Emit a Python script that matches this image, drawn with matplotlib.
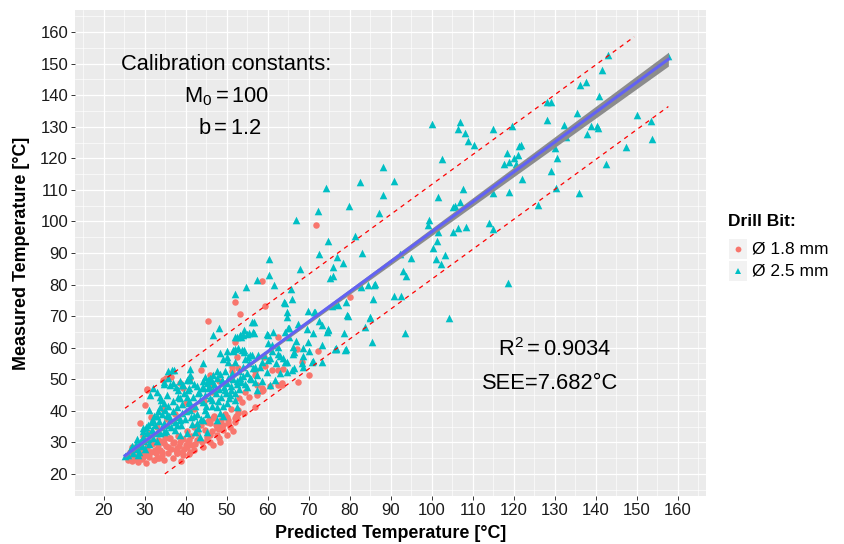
import numpy as np
import matplotlib
matplotlib.use("Agg")
import matplotlib.pyplot as plt
from matplotlib.lines import Line2D
from matplotlib.patches import Rectangle

plt.rcParams['font.family'] = ['Liberation Sans', 'DejaVu Sans']
plt.rcParams['mathtext.fontset'] = 'custom'
plt.rcParams['mathtext.rm'] = 'Liberation Sans'
plt.rcParams['mathtext.it'] = 'Liberation Sans:italic'

# ---- data (predicted, measured) ----
bit_18 = [
    (71.8, 98.9), (58.5, 81.2), (52.1, 74.4), (53.2, 70.6), (45.5, 68.5), (59.3, 73.3),
    (52.0, 61.9), (62.6, 63.5), (80.1, 76.2), (67.2, 59.5), (68.3, 55.6), (72.2, 59.0),
    (63.8, 53.2), (70.1, 51.4), (67.5, 49.2), (63.4, 48.7), (59.0, 57.0), (56.9, 52.7),
    (59.3, 54.2), (52.4, 57.0), (51.2, 54.0), (43.7, 52.9), (45.9, 51.3), (51.2, 52.7),
    (52.8, 53.6), (56.9, 51.2), (61.0, 52.9), (62.6, 52.9), (35.2, 50.3), (38.6, 48.7),
    (41.1, 50.3), (45.9, 47.6), (39.4, 47.1), (30.5, 46.8), (58.5, 47.1), (60.6, 47.8),
    (57.3, 48.2), (36.4, 50.6), (34.5, 49.8), (30.1, 41.9), (28.9, 36.1), (58.6, 46.4),
    (37.8, 26.6), (40.8, 26.3), (40.1, 29.2), (45.1, 31.8), (47.9, 36.1), (50.0, 38.1),
    (52.8, 40.3), (53.7, 42.9), (56.9, 41.1), (58.9, 46.6), (62.6, 48.2), (63.4, 48.2),
    (54.1, 39.2), (52.1, 37.6), (48.7, 35.9), (48.2, 34.3), (45.7, 37.0),
    (26.8, 28.6), (26.4, 27.1), (27.6, 25.5), (28.8, 27.6), (29.7, 25.5), (28.0, 24.4),
    (30.5, 26.0), (31.3, 27.1), (32.5, 27.6), (33.7, 27.6), (33.3, 29.1), (34.6, 29.7),
    (35.8, 28.6), (37.0, 29.7), (37.8, 28.1), (38.6, 30.2), (35.0, 31.3), (36.2, 31.3),
    (33.3, 30.7), (31.3, 30.2), (37.8, 26.5), (39.0, 27.1), (40.3, 28.6), (41.5, 29.1),
    (42.7, 30.7), (40.7, 30.7), (43.9, 30.2), (45.1, 30.7), (45.9, 32.3), (47.6, 34.4),
    (48.0, 36.0), (49.2, 35.5), (50.4, 37.1), (45.9, 36.0), (46.7, 37.6), (50.8, 35.0),
    (52.0, 36.6), (52.8, 39.2), (52.4, 37.6), (30.6, 46.6), (35.0, 50.0), (32.9, 25.0),
    (34.2, 26.0), (39.4, 26.0), (41.9, 27.6), (46.7, 29.1), (48.4, 30.2), (50.0, 32.3),
    (47.6, 32.3),
    (26.0, 24.5), (26.5, 26.0), (27.0, 24.0), (27.3, 27.5), (27.8, 25.2), (28.3, 23.8),
    (28.6, 26.3), (29.0, 28.0), (29.3, 24.8), (29.8, 26.8), (30.2, 23.5), (30.6, 28.5),
    (31.0, 25.5), (31.5, 27.0), (31.8, 29.5), (32.2, 24.3), (32.7, 26.5), (33.0, 28.0),
    (33.5, 25.0), (33.8, 30.5), (34.3, 27.0), (34.7, 24.5), (35.2, 29.0), (35.6, 26.5),
    (36.0, 31.5), (36.4, 28.0), (36.8, 25.0), (37.2, 30.0), (37.6, 27.5), (38.0, 32.0),
    (38.4, 29.0), (38.9, 24.0), (39.3, 31.0), (39.7, 28.0), (40.2, 33.5), (40.6, 30.0),
    (41.0, 27.0), (41.4, 32.0), (41.9, 35.0), (42.3, 29.5), (42.8, 33.0), (43.3, 31.0),
    (43.8, 35.5), (44.3, 28.5), (44.8, 34.0), (45.3, 36.5), (45.8, 30.0), (46.3, 33.5),
    (46.8, 38.5), (47.3, 35.5), (48.0, 31.5), (48.5, 37.0), (49.0, 34.0), (49.6, 39.0),
    (50.3, 36.0), (51.0, 40.5), (51.5, 33.5), (52.3, 38.5), (53.0, 44.0), (54.5, 46.0),
    (55.5, 44.5), (57.5, 45.0),
    (31.0, 33.0), (33.0, 35.0), (35.5, 37.5), (37.5, 39.0), (40.0, 42.5), (42.0, 40.5),
    (44.5, 43.0), (46.5, 46.0), (48.0, 49.5), (31.5, 38.0), (29.5, 32.0), (34.5, 40.5),
]

bit_25 = [
    # upper right
    (143.0, 152.8), (157.6, 152.3), (141.4, 147.9), (136.2, 143.1), (137.5, 144.3),
    (140.8, 139.6), (128.1, 138.0), (129.1, 138.0), (128.2, 132.3), (135.3, 134.3),
    (150.0, 133.6), (153.4, 131.8), (100.0, 130.9), (107.0, 131.6), (106.3, 129.4),
    (108.2, 128.1), (115.0, 129.4), (119.6, 130.1), (132.2, 130.6), (138.9, 130.3),
    (140.3, 130.4), (140.5, 129.6), (137.9, 127.8), (132.7, 126.6), (108.8, 125.5),
    (110.4, 124.2), (121.2, 123.8), (121.7, 124.1), (130.0, 123.4), (153.6, 126.2),
    (147.3, 123.7), (118.4, 121.8), (121.1, 120.9), (120.0, 120.0), (118.8, 118.8),
    (117.5, 118.1), (120.6, 118.2), (130.6, 120.2), (142.5, 118.2), (102.5, 119.8),
    (121.9, 113.4), (129.0, 116.0), (107.5, 110.2), (101.5, 107.7), (130.4, 110.6),
    (136.0, 109.0), (118.9, 109.3), (114.9, 109.1), (105.6, 105.0), (107.0, 106.3),
    (105.3, 104.5), (125.8, 105.3), (99.3, 100.3), (99.1, 98.9), (101.6, 96.6),
    (105.2, 96.5), (106.3, 98.0), (108.4, 98.2), (114.0, 99.6), (114.9, 97.5),
    (101.2, 93.7), (100.2, 91.5), (101.0, 88.1), (102.3, 86.6), (103.2, 89.5),
    (118.7, 80.5), (104.3, 69.3), (93.5, 64.6),
    # middle
    (88.0, 117.4), (82.5, 112.6), (90.8, 112.8), (74.3, 110.5), (88.0, 108.5),
    (72.2, 103.3), (66.8, 100.5), (79.8, 105.0), (87.2, 102.8), (94.9, 88.3),
    (93.1, 84.4), (93.6, 82.7), (92.2, 89.7), (86.0, 79.9), (85.7, 75.3), (90.7, 76.5),
    (92.6, 76.4), (74.8, 93.9), (72.4, 89.7), (67.8, 84.9), (77.0, 88.8), (76.0, 85.7),
    (78.4, 86.7), (75.2, 82.0), (76.0, 82.7), (81.3, 95.4), (82.9, 90.1), (82.5, 79.9),
    (82.7, 79.3), (84.5, 79.9), (86.2, 80.1), (79.1, 74.6), (76.4, 73.9), (77.2, 73.5),
    (75.6, 73.2), (79.3, 70.2), (84.9, 69.6), (83.7, 66.7), (85.5, 61.9), (78.5, 64.8),
    (74.8, 65.6), (74.4, 64.9), (73.3, 67.2), (71.6, 71.2), (71.2, 71.2), (69.7, 71.6),
    (67.3, 67.4), (65.9, 75.4), (64.8, 71.4), (64.1, 74.1), (64.6, 69.8), (65.0, 66.1),
    (64.1, 65.1), (65.3, 63.5), (69.8, 61.7), (68.7, 60.0), (73.2, 60.7), (78.9, 59.3),
    (76.5, 59.5), (66.2, 57.9), (70.8, 55.6), (73.3, 55.5), (68.7, 54.0), (66.0, 52.9),
    (64.6, 55.6), (63.8, 56.6), (64.8, 52.4), (74.7, 66.0), (79.0, 59.6), (85.0, 69.5),
    (76.7, 59.6), (71.0, 55.7), (68.6, 57.4), (66.1, 60.1), (79.5, 70.0),
    (62.5, 58.0), (67.0, 62.0), (69.5, 66.0), (71.0, 64.5), (72.5, 68.5), (70.0, 59.0),
    # 50-65
    (60.3, 88.0), (60.4, 83.0), (57.5, 81.6), (54.7, 79.3), (61.5, 79.9), (65.6, 78.6),
    (51.9, 77.1), (64.0, 74.4), (52.0, 63.5), (54.0, 64.1), (55.4, 64.7), (56.7, 64.7),
    (53.6, 63.5), (59.9, 64.3), (61.2, 65.1), (65.1, 66.2), (51.5, 59.0), (52.0, 59.5),
    (52.8, 59.9), (54.1, 59.4), (55.7, 57.7), (57.7, 57.7), (59.0, 57.7), (61.0, 60.9),
    (61.0, 58.8), (60.6, 56.7), (63.0, 57.5), (64.2, 55.6), (66.3, 58.6), (68.3, 55.1),
    (66.3, 53.5), (76.6, 59.8),
    (56.7, 68.0), (56.1, 68.2), (54.2, 65.6), (48.0, 66.1), (46.6, 64.0), (56.5, 65.1),
    (55.0, 64.2), (53.3, 64.0), (52.4, 63.3), (60.0, 64.0), (60.0, 61.4), (62.6, 60.3),
    (51.6, 59.2), (50.0, 58.9), (53.7, 59.2), (54.2, 58.7), (48.4, 58.2), (50.0, 57.1),
    (49.2, 56.3), (50.4, 55.6), (56.1, 57.7), (55.3, 57.0), (54.5, 56.3), (52.0, 55.6),
    (44.3, 55.2), (41.1, 53.4), (35.8, 52.7), (37.2, 52.9), (56.5, 53.6), (58.1, 53.8),
    (59.8, 52.3), (47.6, 52.5), (46.7, 51.4), (48.4, 51.6), (49.6, 52.7), (51.2, 52.1),
    (53.3, 50.5), (44.7, 50.6), (45.5, 49.8), (46.3, 49.3), (47.6, 50.3), (48.8, 49.8),
    (50.0, 48.7), (55.7, 50.3), (56.9, 49.2), (61.8, 49.8), (60.6, 48.2), (38.6, 49.4),
    (39.4, 48.2), (41.1, 49.8), (42.7, 47.9), (36.2, 48.2), (34.6, 48.5), (32.1, 47.3),
    (44.3, 47.6), (45.5, 47.1),
    (52.5, 48.5), (54.0, 51.0), (57.5, 51.5), (58.5, 55.5), (60.0, 56.0), (62.0, 55.0),
    (63.0, 52.0), (51.0, 46.5), (53.0, 47.0), (55.0, 47.5), (57.5, 46.5), (58.5, 49.5),
    # dense cluster
    (25.2, 25.7), (26.0, 26.0), (27.2, 26.5), (28.4, 26.0), (28.0, 27.8), (29.3, 28.8),
    (28.8, 30.2), (29.7, 31.8), (30.5, 32.9), (29.7, 34.5), (30.9, 35.5), (31.7, 33.9),
    (32.1, 37.1), (32.9, 38.2), (31.1, 40.1), (32.9, 46.1), (33.7, 44.5), (34.6, 42.4),
    (33.7, 41.3), (35.0, 40.3), (35.4, 38.7), (36.2, 37.1), (35.8, 35.5), (34.2, 35.0),
    (32.9, 32.9), (34.6, 33.4), (37.4, 33.9), (37.8, 35.5), (38.6, 37.1), (39.0, 39.2),
    (37.8, 41.3), (38.6, 43.9), (38.2, 46.6), (37.0, 48.7), (39.0, 48.2), (40.3, 49.8),
    (41.1, 51.4), (40.9, 47.1), (40.3, 44.5), (40.7, 42.4), (41.1, 40.3), (41.9, 38.2),
    (42.7, 36.1), (43.1, 34.5), (42.3, 33.4), (40.3, 32.9), (38.6, 32.4), (43.5, 31.8),
    (45.1, 33.4), (44.3, 37.1), (44.7, 40.3), (44.3, 42.9), (43.1, 45.5), (43.9, 47.1),
    (45.1, 48.7), (45.9, 50.3), (46.7, 46.6), (46.3, 43.4), (47.6, 41.3), (48.4, 39.2),
    (49.2, 38.2), (47.6, 37.1), (50.0, 42.4), (50.8, 45.0), (49.6, 46.6), (49.2, 49.2),
    (52.0, 43.4), (52.4, 41.3), (36.6, 52.9), (35.8, 50.3), (34.6, 49.2), (31.3, 45.0),
    (26.5, 27.5), (27.0, 28.8), (27.8, 29.5), (28.2, 31.0), (28.5, 27.0), (29.0, 29.5),
    (29.5, 33.5), (29.8, 30.5), (30.0, 28.0), (30.3, 35.0), (30.8, 31.0), (31.0, 29.5),
    (31.5, 36.5), (31.8, 34.0), (32.0, 31.5), (32.3, 38.5), (32.6, 35.5), (33.0, 30.5),
    (33.2, 40.0), (33.5, 36.8), (33.8, 33.0), (34.0, 43.5), (34.3, 39.0), (34.8, 36.0),
    (35.2, 33.5), (35.5, 45.0), (35.6, 41.5), (36.0, 38.5), (36.4, 34.8), (36.8, 43.0),
    (37.0, 40.0), (37.3, 36.5), (37.6, 47.5), (38.0, 44.5), (38.3, 38.0), (38.8, 35.5),
    (39.2, 42.0), (39.5, 45.5), (39.8, 37.5), (40.0, 40.0), (40.5, 46.5), (40.8, 43.0),
    (41.2, 38.0), (41.5, 35.8), (41.8, 44.5), (42.0, 48.5), (42.3, 41.5), (42.8, 39.0),
    (43.2, 46.0), (43.5, 43.5), (43.8, 37.5), (44.2, 49.5), (44.6, 45.0), (45.0, 41.5),
    (45.3, 39.0), (45.7, 47.5), (46.0, 44.0), (46.5, 41.5), (47.0, 48.5), (47.3, 45.5),
    (47.8, 43.0), (48.2, 47.0), (48.6, 44.5), (49.0, 41.5), (49.4, 47.5), (49.8, 45.5),
    (50.3, 50.5), (50.6, 44.0), (51.0, 48.0), (51.5, 50.0), (52.0, 45.5), (52.4, 49.5),
    (53.0, 52.5), (53.5, 49.0), (54.0, 54.0), (54.5, 48.5), (55.0, 52.0), (55.5, 55.0),
    (56.0, 50.0), (57.0, 54.0),
]

x_ticks = list(range(20, 161, 10))
y_ticks = list(range(20, 161, 10))

# linear fit
fit_slope = 0.948
fit_icpt = 1.91
fit_x0, fit_x1 = 25.2, 157.7
pred_band = 15.0      # ~1.96 * SEE
see = 7.682
n_obs = 1000
x_mean = 45.0
sxx = 6.3e5

red = '#F8766D'
teal = '#00BFC4'

fig = plt.figure(figsize=(8.45, 5.44), dpi=100)
ax = fig.add_axes([75 / 845, 48 / 544, 631.5 / 845, 486 / 544])
ax.set_facecolor('#EBEBEB')
ax.set_xlim(13, 167)
ax.set_ylim(13, 167)

ax.set_xticks(x_ticks)
ax.set_yticks(y_ticks)
ax.set_xticks(np.arange(15, 170, 10), minor=True)
ax.set_yticks(np.arange(15, 170, 10), minor=True)
ax.grid(which='major', color='white', lw=0.9)
ax.grid(which='minor', color='white', lw=0.45)
ax.set_axisbelow(True)
for s in ax.spines.values():
    s.set_visible(False)
ax.tick_params(which='major', length=3, width=0.7, color='#333333',
               labelsize=12, labelcolor='#1a1a1a', pad=2)
ax.tick_params(which='minor', length=0)

rx = [p[0] for p in bit_18]
ry = [p[1] for p in bit_18]
tx = [p[0] for p in bit_25]
ty = [p[1] for p in bit_25]
ax.scatter(rx, ry, s=22, marker='o', color=red, linewidths=0, zorder=3)
ax.scatter(tx, ty, s=30, marker='^', color=teal, linewidths=0, zorder=3)

# fit line with confidence ribbon
xs = np.linspace(fit_x0, fit_x1, 200)
ys = fit_icpt + fit_slope * xs
half = 1.96 * see * np.sqrt(1 / n_obs + (xs - x_mean) ** 2 / sxx)
ax.fill_between(xs, ys - half, ys + half, color='#8C8C8C', lw=0, zorder=4)
ax.plot(xs, ys, color='#6262F4', lw=2.2, zorder=5)

# prediction limits, clipped to the y scale limits
y_hi, y_lo = 158.5, 20.0
up_x1 = min(fit_x1, (y_hi - fit_icpt - pred_band) / fit_slope)
lo_x0 = max(fit_x0, (y_lo - fit_icpt + pred_band) / fit_slope)
ux = np.array([fit_x0, up_x1])
lx = np.array([lo_x0, fit_x1])
ax.plot(ux, fit_icpt + fit_slope * ux + pred_band, color='red', lw=0.9,
        dashes=(3.5, 3.5), zorder=5)
ax.plot(lx, fit_icpt + fit_slope * lx - pred_band, color='red', lw=0.9,
        dashes=(3.5, 3.5), zorder=5)

# annotations
fs = 15.75
ax.text(49.8, 149.6, 'Calibration constants:', fontsize=fs, ha='center', va='center')
ax.text(49.95, 139.4, r'$\mathrm{M_0 = 100}$', fontsize=fs, ha='center', va='center')
ax.text(50.8, 129.6, r'$\mathrm{b = 1.2}$', fontsize=fs, ha='center', va='center')
ax.text(130.0, 59.5, r'$\mathrm{R^2 = 0.9034}$', fontsize=fs, ha='center', va='center')
ax.text(128.9, 48.8, 'SEE=7.682°C', fontsize=fs, ha='center', va='center')

fig.text(390.5 / 845, 1 - 533 / 544, 'Predicted Temperature [°C]', fontsize=12.9,
         fontweight='bold', ha='center', va='center')
fig.text(22 / 845, 1 - 253 / 544, 'Measured Temperature [°C]', fontsize=12.9,
         fontweight='bold', ha='center', va='center', rotation=90)

# legend drawn by hand
fig.text(728 / 845, 1 - 222 / 544, 'Drill Bit:', fontsize=12.5, fontweight='bold',
         ha='left', va='center')
for i, (lab, col, mk, ms) in enumerate([('Ø 1.8 mm', red, 'o', 4.2),
                                         ('Ø 2.5 mm', teal, '^', 4.6)]):
    cy = 249 + i * 22
    fig.add_artist(Rectangle((729 / 845, 1 - (cy + 10) / 544), 18 / 845, 20 / 544,
                             transform=fig.transFigure, color='#F2F2F2', lw=0))
    fig.add_artist(Line2D([738 / 845], [1 - cy / 544], transform=fig.transFigure,
                          marker=mk, markersize=ms, color=col, lw=0, mew=0))
    fig.text(752 / 845, 1 - cy / 544, lab, fontsize=12.5, ha='left', va='center')

fig.savefig('out.png', dpi=100)
